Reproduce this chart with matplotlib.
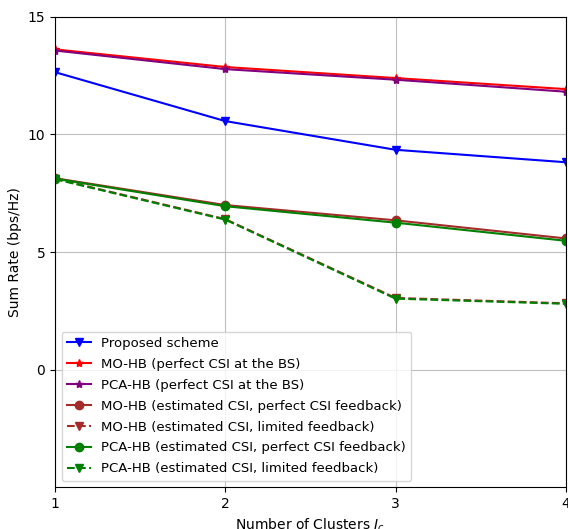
import matplotlib
matplotlib.use("Agg")
import matplotlib.pyplot as plt

clusters = [1, 2, 3, 4]

proposed = [12.65, 10.57, 9.35, 8.82]
mo_perfect = [13.62, 12.87, 12.40, 11.93]
pca_perfect = [13.57, 12.78, 12.33, 11.82]
mo_est_perfect_fb = [8.14, 7.00, 6.35, 5.58]
mo_est_limited_fb = [8.12, 6.40, 3.05, 2.82]
pca_est_perfect_fb = [8.12, 6.95, 6.25, 5.48]
pca_est_limited_fb = [8.10, 6.38, 3.02, 2.80]

fig = plt.figure(figsize=(5.68, 5.29), dpi=100)
ax = fig.add_axes([0.097, 0.079, 0.899, 0.889])

ax.plot(clusters, proposed, color='blue', marker='v', label='Proposed scheme')
ax.plot(clusters, mo_perfect, color='red', marker='*', label='MO-HB (perfect CSI at the BS)')
ax.plot(clusters, pca_perfect, color='purple', marker='*', label='PCA-HB (perfect CSI at the BS)')
ax.plot(clusters, mo_est_perfect_fb, color='brown', marker='o',
        label='MO-HB (estimated CSI, perfect CSI feedback)')
ax.plot(clusters, mo_est_limited_fb, color='brown', marker='v', linestyle='--',
        label='MO-HB (estimated CSI, limited feedback)')
ax.plot(clusters, pca_est_perfect_fb, color='green', marker='o',
        label='PCA-HB (estimated CSI, perfect CSI feedback)')
ax.plot(clusters, pca_est_limited_fb, color='green', marker='v', linestyle='--',
        label='PCA-HB (estimated CSI, limited feedback)')

ax.set_xlim(1, 4)
ax.set_ylim(-5, 15)
ax.set_xticks([1, 2, 3, 4])
ax.set_yticks([0, 5, 10, 15])
ax.grid(True, color='#b0b0b0', linewidth=0.8, alpha=0.8)
ax.set_xlabel('Number of Clusters $J_c$')
ax.set_ylabel('Sum Rate (bps/Hz)')
ax.legend(loc='lower left', fontsize=9.5, handlelength=1.8, labelspacing=0.6)

fig.savefig('out.png', dpi=100)
